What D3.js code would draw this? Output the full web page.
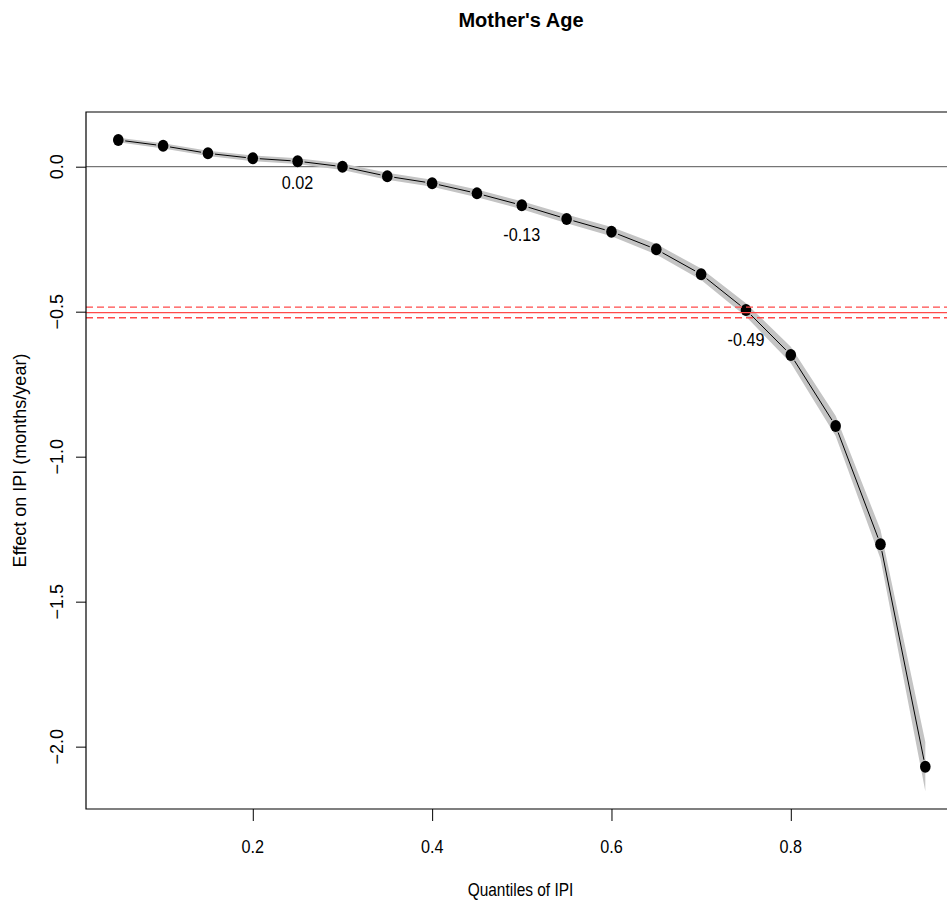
<!DOCTYPE html>
<html>
<head>
<meta charset="utf-8">
<script src="https://cdn.jsdelivr.net/npm/d3@7"></script>
<style>
  html, body { margin: 0; padding: 0; background: #fff; }
  svg { display: block; font-family: "Liberation Sans", Arial, sans-serif; }
</style>
</head>
<body>
<script>
// ---------- data ----------
const quantiles = [0.05, 0.10, 0.15, 0.20, 0.25, 0.30, 0.35, 0.40, 0.45, 0.50,
                   0.55, 0.60, 0.65, 0.70, 0.75, 0.80, 0.85, 0.90, 0.95];
const effect    = [0.092, 0.072, 0.046, 0.029, 0.019, 0.000, -0.033, -0.057, -0.092, -0.133,
                   -0.180, -0.224, -0.285, -0.371, -0.494, -0.649, -0.894, -1.302, -2.069];
const ciLower   = [0.084, 0.063, 0.037, 0.019, 0.009, -0.011, -0.045, -0.069, -0.105, -0.147,
                   -0.195, -0.240, -0.303, -0.391, -0.517, -0.677, -0.929, -1.352, -2.154];
const ciUpper   = [0.100, 0.081, 0.055, 0.039, 0.029, 0.011, -0.021, -0.045, -0.079, -0.119,
                   -0.165, -0.208, -0.267, -0.351, -0.471, -0.621, -0.859, -1.252, -1.984];
const labelQuantiles = [0.25, 0.50, 0.75];
const labelTexts     = ["0.02", "-0.13", "-0.49"];
const refMean  = -0.503;
const refLower = -0.521;
const refUpper = -0.484;
const xTicks = [0.2, 0.4, 0.6, 0.8];
const yTicks = [0.0, -0.5, -1.0, -1.5, -2.0];
const titleText = "Mother's Age";
const xTitle = "Quantiles of IPI";
const yTitle = "Effect on IPI (months/year)";

// ---------- layout ----------
const W = 947, H = 901;
const L = 86, T = 112, B = 809, R = 957.6;

const svg = d3.select("body").append("svg").attr("width", W).attr("height", H);

const x = d3.scaleLinear().domain([0.014, 0.986]).range([L, R]);
const y = d3.scaleLinear().domain([0.1886, -2.215]).range([T, B]);

const plot = svg.append("g");
plot.append("clipPath").attr("id", "clip")
  .append("rect").attr("x", L).attr("y", T).attr("width", R - L).attr("height", B - T);

const inner = plot.append("g").attr("clip-path", "url(#clip)");

// zero line
inner.append("line")
  .attr("x1", L).attr("x2", R).attr("y1", y(0)).attr("y2", y(0))
  .attr("stroke", "#555").attr("stroke-width", 1);

// CI band
const pts = quantiles.map((q, i) => ({ q, v: effect[i], lo: ciLower[i], hi: ciUpper[i] }));
inner.append("path")
  .datum(pts)
  .attr("d", d3.area().x(d => x(d.q)).y0(d => y(d.lo)).y1(d => y(d.hi)))
  .attr("fill", "#c4c4c4").attr("stroke", "none");

// line segments with gaps around points (type = "b")
const gap = 7;
const segs = [];
for (let i = 0; i < pts.length - 1; i++) {
  const x0 = x(pts[i].q), y0 = y(pts[i].v), x1 = x(pts[i + 1].q), y1 = y(pts[i + 1].v);
  const len = Math.hypot(x1 - x0, y1 - y0);
  if (len > 2 * gap) {
    const ux = (x1 - x0) / len, uy = (y1 - y0) / len;
    segs.push([x0 + ux * gap, y0 + uy * gap, x1 - ux * gap, y1 - uy * gap]);
  }
}
inner.selectAll("line.seg").data(segs).enter().append("line")
  .attr("class", "seg")
  .attr("x1", d => d[0]).attr("y1", d => d[1]).attr("x2", d => d[2]).attr("y2", d => d[3])
  .attr("stroke", "#000").attr("stroke-width", 1);

// points
inner.selectAll("ellipse.pt").data(pts).enter().append("ellipse")
  .attr("class", "pt")
  .attr("cx", d => x(d.q)).attr("cy", d => y(d.v))
  .attr("rx", 5.3).attr("ry", 6).attr("fill", "#000");

// reference lines (red)
inner.append("line")
  .attr("x1", L).attr("x2", R).attr("y1", y(refMean)).attr("y2", y(refMean))
  .attr("stroke", "#ff4a4a").attr("stroke-width", 1.3);
[refLower, refUpper].forEach(v => {
  inner.append("line")
    .attr("x1", L).attr("x2", R).attr("y1", y(v)).attr("y2", y(v))
    .attr("stroke", "#ff4a4a").attr("stroke-width", 1.3)
    .attr("stroke-dasharray", "7,4");
});

// value labels
const labelOffsets = [28, 36, 36];
labelQuantiles.forEach((q, i) => {
  const idx = quantiles.indexOf(q);
  const lx = x(q), ly = y(effect[idx]) + labelOffsets[i];
  svg.append("text")
    .attr("transform", `translate(${lx},${ly}) scale(0.9,1)`)
    .attr("text-anchor", "middle")
    .attr("font-size", 18).attr("fill", "#000")
    .text(labelTexts[i]);
});

// box (left, top, bottom; right side is beyond the window)
plot.append("path")
  .attr("d", `M${R},${T}H${L}V${B}H${R}`)
  .attr("fill", "none").attr("stroke", "#000").attr("stroke-width", 1.2);

// x axis
const xAxis = svg.append("g").attr("transform", `translate(0,${B})`)
  .call(d3.axisBottom(x).tickValues(xTicks).tickSize(12).tickFormat(d3.format(".1f")));
xAxis.select(".domain").remove();
xAxis.selectAll("line").attr("stroke", "#000");
xAxis.selectAll("text").remove();
xTicks.forEach(t => {
  svg.append("text")
    .attr("transform", `translate(${x(t)},853) scale(0.9,1)`)
    .attr("text-anchor", "middle").attr("font-size", 18).attr("fill", "#000")
    .text(d3.format(".1f")(t));
});

// y axis
const yAxis = svg.append("g").attr("transform", `translate(${L},0)`)
  .call(d3.axisLeft(y).tickValues(yTicks).tickSize(10));
yAxis.select(".domain").remove();
yAxis.selectAll("line").attr("stroke", "#000");
yAxis.selectAll("text").remove();
yTicks.forEach(t => {
  svg.append("text")
    .attr("transform", `translate(63,${y(t)}) rotate(-90)`)
    .attr("text-anchor", "middle").attr("font-size", 18).attr("fill", "#000")
    .text(d3.format(".1f")(t).replace("-", "-"));
});

// titles
svg.append("text")
  .attr("x", 521).attr("y", 27)
  .attr("text-anchor", "middle").attr("font-size", 20).attr("font-weight", "bold")
  .attr("fill", "#000")
  .text(titleText);

svg.append("text")
  .attr("transform", `translate(${(L + 947) / 2 + 4},896) scale(0.86,1)`)
  .attr("text-anchor", "middle").attr("font-size", 18).attr("fill", "#000")
  .text(xTitle);

svg.append("text")
  .attr("transform", `translate(26,${(T + B) / 2}) rotate(-90)`)
  .attr("text-anchor", "middle").attr("font-size", 18).attr("fill", "#000")
  .text(yTitle);
</script>
</body>
</html>
